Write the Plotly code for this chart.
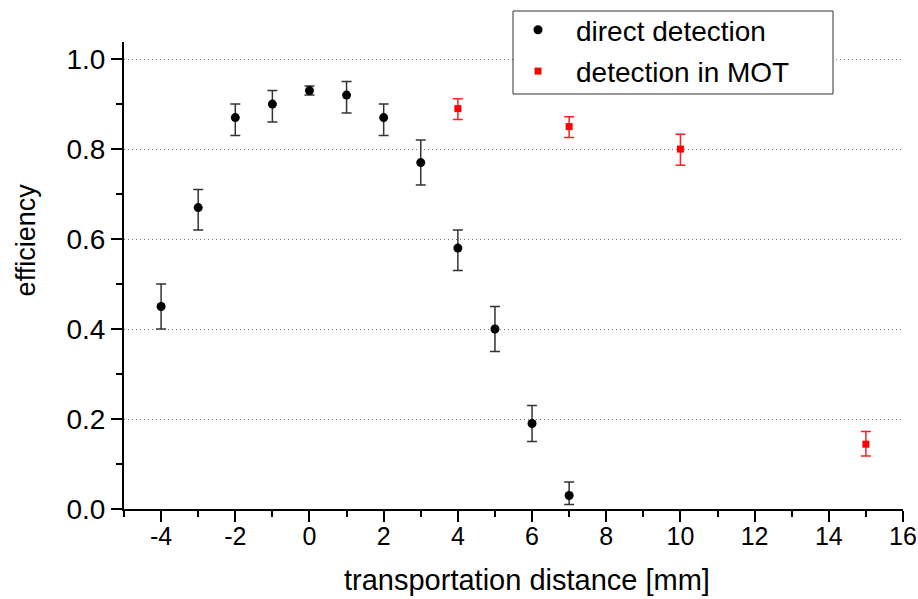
import plotly.graph_objects as go

# direct detection
x_direct = [-4, -3, -2, -1, 0, 1, 2, 3, 4, 5, 6, 7]
y_direct = [0.45, 0.67, 0.87, 0.90, 0.93, 0.92, 0.87, 0.77, 0.58, 0.40, 0.19, 0.03]
err_direct_plus = [0.05, 0.04, 0.03, 0.03, 0.01, 0.03, 0.03, 0.05, 0.04, 0.05, 0.04, 0.03]
err_direct_minus = [0.05, 0.05, 0.04, 0.04, 0.01, 0.04, 0.04, 0.05, 0.05, 0.05, 0.04, 0.02]

# detection in MOT
x_mot = [4, 7, 10, 15]
y_mot = [0.89, 0.85, 0.80, 0.144]
err_mot_plus = [0.022, 0.022, 0.033, 0.028]
err_mot_minus = [0.024, 0.024, 0.036, 0.026]

# tick labels
x_tickvals = [-4, -2, 0, 2, 4, 6, 8, 10, 12, 14, 16]
x_ticktext = ["-4", "-2", "0", "2", "4", "6", "8", "10", "12", "14", "16"]

FONT = "Liberation Sans, Arial, sans-serif"

fig = go.Figure()
fig.add_trace(go.Scatter(
    x=x_direct, y=y_direct, mode="markers", name="direct detection",
    marker=dict(symbol="circle", size=9, color="black"),
    error_y=dict(type="data", symmetric=False, array=err_direct_plus,
                 arrayminus=err_direct_minus, color="#333333", thickness=1.5, width=5),
    legendgroup="a",
))
fig.add_trace(go.Scatter(
    x=x_mot, y=y_mot, mode="markers", name="detection in MOT",
    marker=dict(symbol="square", size=7, color="#ff0000"),
    error_y=dict(type="data", symmetric=False, array=err_mot_plus,
                 arrayminus=err_mot_minus, color="#ff2020", thickness=1.5, width=5),
    legendgroup="b",
))

# legend frame (box drawn as a paper shape, legend items on top)
PW, PH, L, B = 779.0, 467.0, 124.0, 509.0
fig.add_shape(type="rect", xref="paper", yref="paper",
              x0=(513 - L) / PW, x1=(833 - L) / PW,
              y0=(B - 94) / PH, y1=(B - 11) / PH,
              line=dict(color="#333333", width=1), fillcolor="white", layer="above")

fig.update_layout(
    width=918, height=599,
    margin=dict(l=124, r=15, t=42, b=90, autoexpand=False),
    paper_bgcolor="white", plot_bgcolor="white",
    font=dict(family=FONT, size=25, color="black"),
    showlegend=True,
    legend=dict(
        x=(500 - L) / PW, y=(B - 5) / PH, xanchor="left", yanchor="top",
        borderwidth=0, bgcolor="rgba(0,0,0,0)",
        font=dict(size=28), tracegroupgap=2, traceorder="grouped",
        itemwidth=66,
    ),
    xaxis=dict(
        range=[-5, 16], tickvals=x_tickvals, ticktext=x_ticktext,
        showline=True, linecolor="black", linewidth=2,
        ticks="outside", ticklen=11, tickwidth=2, tickcolor="black",
        showgrid=False, zeroline=False, automargin=False,
        tickfont=dict(size=25), ticklabelstandoff=-7,
        minor=dict(dtick=1, tick0=0, ticks="outside", ticklen=6, tickwidth=2, tickcolor="black", showgrid=False),
    ),
    yaxis=dict(
        range=[0, 1.038], tick0=0, dtick=0.2, tickformat=".1f",
        showline=True, linecolor="black", linewidth=2,
        ticks="outside", ticklen=11, tickwidth=2, tickcolor="black",
        showgrid=True, gridcolor="#777777", gridwidth=1, griddash="1px,3px",
        zeroline=False, automargin=False,
        tickfont=dict(size=28),
        minor=dict(dtick=0.1, tick0=0, ticks="outside", ticklen=6, tickwidth=2, tickcolor="black", showgrid=False),
    ),
    annotations=[
        dict(text="transportation distance [mm]", xref="paper", yref="paper",
             x=0.517, y=-0.152, xanchor="center", yanchor="middle",
             showarrow=False, font=dict(size=29)),
        dict(text="efficiency", xref="paper", yref="paper",
             x=-0.126, y=0.577, xanchor="center", yanchor="middle",
             textangle=-90, showarrow=False, font=dict(size=27)),
    ],
)

fig.write_html("out.html")
